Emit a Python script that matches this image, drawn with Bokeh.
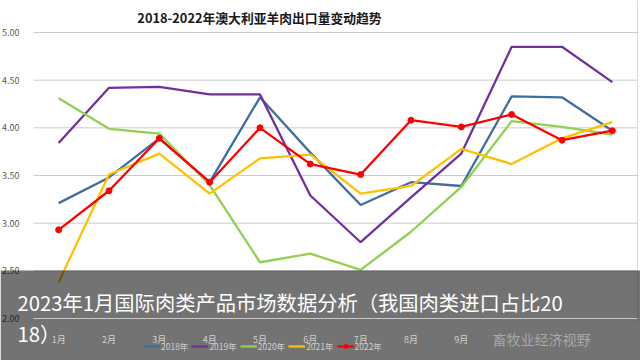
from bokeh.plotting import figure
from bokeh.models import (Range1d, FixedTicker, NumeralTickFormatter, Legend, LegendItem,
                          BoxAnnotation, Label)
from bokeh.embed import file_html
from bokeh.resources import INLINE

months = ["1月", "2月", "3月", "4月", "5月", "6月", "7月", "8月", "9月", "10月", "11月", "12月"]
series_names = ["2018年", "2019年", "2020年", "2021年", "2022年"]
v2018 = [3.21, 3.48, 3.89, 3.43, 4.32, 3.74, 3.19, 3.43, 3.39, 4.33, 4.32, 3.97]
v2019 = [3.84, 4.42, 4.43, 4.35, 4.35, 3.29, 2.80, 3.27, 3.73, 4.85, 4.85, 4.48]
v2020 = [4.31, 3.99, 3.94, 3.40, 2.59, 2.68, 2.51, 2.91, 3.38, 4.07, 4.01, 3.93]
v2021 = [2.38, 3.51, 3.73, 3.31, 3.68, 3.72, 3.31, 3.39, 3.78, 3.62, 3.89, 4.06]
v2022 = [2.93, 3.34, 3.89, 3.43, 4.00, 3.62, 3.51, 4.08, 4.01, 4.14, 3.87, 3.97]
y_ticks = [2.0, 2.5, 3.0, 3.5, 4.0, 4.5, 5.0]
title_text = "2018-2022年澳大利亚羊肉出口量变动趋势"
banner_line1 = "2023年1月国际肉类产品市场数据分析（我国肉类进口占比20"
banner_line2 = "18）"
watermark_text = "畜牧业经济视野"

colors = ["#3F6FA0", "#7030A0", "#92D050", "#FFC000", "#FF0000"]
series = [v2018, v2019, v2020, v2021, v2022]
FONT = "Noto Sans CJK SC"

# layout (pixels in the figure)
W, H = 640, 360
PLOT_L, PLOT_R = 33, 637       # plotting band in x
Y_TOP_PX, Y_BOT_PX = 32, 318   # pixel rows of 5.0 and 2.0
CAT_W = (PLOT_R - PLOT_L) / 12 # pixels per month
ymin, ymax = y_ticks[0], y_ticks[-1]
ppu = (Y_BOT_PX - Y_TOP_PX) / (ymax - ymin)
y_range = Range1d(ymin - (H - Y_BOT_PX) / ppu, ymax + Y_TOP_PX / ppu)
x0_px = PLOT_L + CAT_W / 2
x_range = Range1d(-x0_px / CAT_W, (W - x0_px) / CAT_W)
x_band_end = (PLOT_R - x0_px) / CAT_W

xs = list(range(len(months)))

p = figure(width=W, height=H, x_range=x_range, y_range=y_range,
           output_backend="svg", toolbar_location=None,
           min_border_left=0, min_border_right=0, min_border_top=0, min_border_bottom=0)
p.outline_line_color = None
p.background_fill_color = "white"
p.border_fill_color = "white"
p.grid.grid_line_color = None

# horizontal grid lines at the y ticks, spanning the plotting band only
p.segment(x0=[-0.5] * len(y_ticks), x1=[x_band_end] * len(y_ticks),
          y0=y_ticks, y1=y_ticks, line_color="#CCCCCC", line_width=1)
# right border of the chart area
p.segment(x0=[x_band_end], x1=[x_band_end], y0=[y_range.start], y1=[y_range.end],
          line_color="#D9D9D9", line_width=1)

yax = p.yaxis[0]
yax.fixed_location = -0.5
yax.bounds = (ymin, ymax)
yax.ticker = FixedTicker(ticks=y_ticks)
yax.formatter = NumeralTickFormatter(format="0.00")
yax.axis_line_color = None
yax.major_tick_line_color = None
yax.minor_tick_line_color = None
yax.major_label_text_font_size = "9px"
yax.major_label_text_color = "#595959"
yax.major_label_text_font = FONT
yax.major_label_standoff = 8

xax = p.xaxis[0]
xax.fixed_location = ymin
xax.bounds = (-0.5, x_band_end)
xax.ticker = FixedTicker(ticks=xs)
xax.major_label_overrides = {i: m for i, m in zip(xs, months)}
xax.axis_line_color = "#C8C8C8"
xax.major_tick_line_color = None
xax.minor_tick_line_color = None
xax.major_label_text_font_size = "9px"
xax.major_label_text_color = "#D0D0D0"
xax.major_label_text_font = FONT
xax.major_label_standoff = 8
xax.level = "overlay"

items = []
for name, vals, c in zip(series_names, series, colors):
    r = p.line(xs, vals, line_color=c, line_width=2.3)
    rs = [r]
    if name == "2022年":
        m = p.scatter(xs, vals, size=6, fill_color=c, line_color=c)
        rs.append(m)
    items.append(LegendItem(label=name, renderers=rs))

legend = Legend(items=items, orientation="horizontal", location=(143, 8),
                label_text_font_size="8.5px", label_text_color="#D0D0D0", label_text_font=FONT,
                background_fill_alpha=0, border_line_color=None,
                glyph_width=17, glyph_height=10, label_standoff=1, spacing=3,
                padding=0, margin=0, label_height=10)
legend.level = "overlay"
p.add_layout(legend)

title = Label(x=259, y=17, x_units="canvas", y_units="canvas", text=title_text,
              text_align="center", text_baseline="middle", text_font=FONT,
              text_font_size="12.8px", text_font_style="bold", text_color="#1A1A1A")
p.add_layout(title)

overlay = BoxAnnotation(left=0, right=W, top=270, bottom=H,
                        left_units="canvas", right_units="canvas",
                        top_units="canvas", bottom_units="canvas",
                        fill_color="black", fill_alpha=0.55, line_color=None)
p.add_layout(overlay)

wm_box = BoxAnnotation(left=470, right=W, top=322, bottom=H,
                       left_units="canvas", right_units="canvas",
                       top_units="canvas", bottom_units="canvas",
                       fill_color="#737373", fill_alpha=1, line_color=None, level="overlay")
p.add_layout(wm_box)

wm = Label(x=492, y=338, x_units="canvas", y_units="canvas", text=watermark_text,
           text_baseline="middle", text_font=FONT, text_font_size="14px",
           text_color="#A8A8A8", level="overlay")
p.add_layout(wm)

b1 = Label(x=17, y=301, x_units="canvas", y_units="canvas", text=banner_line1,
           text_baseline="middle", text_font=FONT, text_font_size="20.3px",
           text_color="white", level="overlay")
b2 = Label(x=17, y=332, x_units="canvas", y_units="canvas", text=banner_line2,
           text_baseline="middle", text_font=FONT, text_font_size="20.3px",
           text_color="white", level="overlay")
p.add_layout(b1)
p.add_layout(b2)

open("out.html", "w").write(file_html(p, INLINE))
